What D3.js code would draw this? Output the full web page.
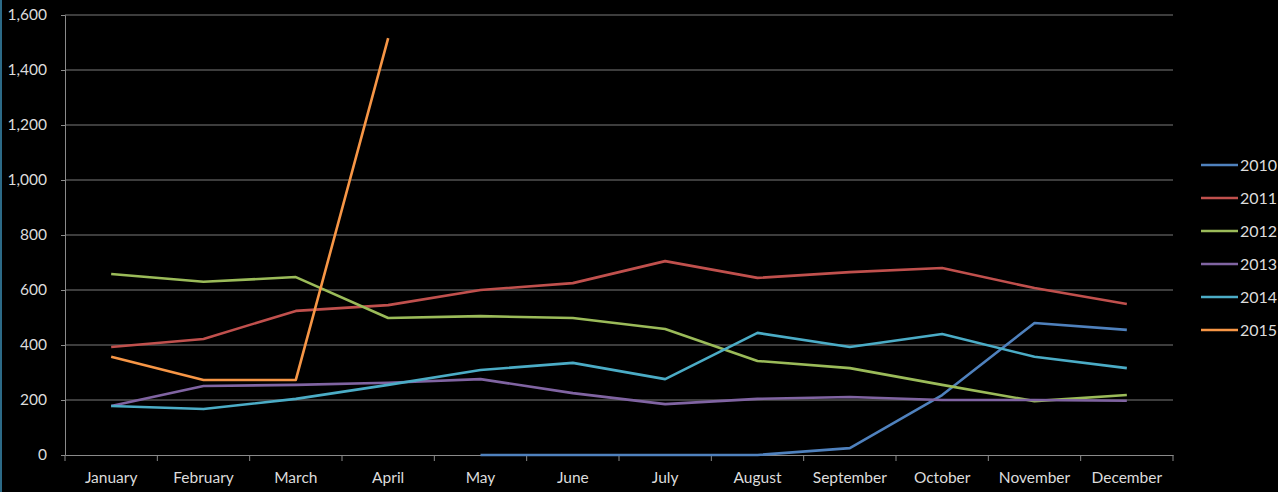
<!DOCTYPE html>
<html><head><meta charset="utf-8">
<script src="https://cdn.jsdelivr.net/npm/d3@7"></script>
<style>
html,body{margin:0;padding:0;background:#000;}
svg{display:block;}
text{font-family:Lato,"Open Sans",sans-serif;fill:#dcdcdc;}
</style></head>
<body>
<svg id="c" width="1278" height="492"></svg>
<script>
const months = ["January","February","March","April","May","June","July","August","September","October","November","December"];
const yTicks = [0,200,400,600,800,1000,1200,1400,1600];
const seriesNames = ["2010","2011","2012","2013","2014","2015"];
const colors = ["#4f81bd","#c0504d","#9bbb59","#8064a2","#4bacc6","#f79646"];
const v2010 = [null,null,null,null,0,0,0,0,25,218,480,455];
const v2011 = [393,422,524,545,600,625,705,644,665,680,607,549];
const v2012 = [658,630,647,498,505,498,458,342,316,255,196,218];
const v2013 = [178,251,255,263,276,225,185,204,211,200,200,197];
const v2014 = [178,167,204,255,309,335,276,444,393,440,357,316];
const v2015 = [357,273,273,1516,null,null,null,null,null,null,null,null];
const allValues = [v2010,v2011,v2012,v2013,v2014,v2015];

const svg = d3.select("#c");
svg.append("rect").attr("x",0).attr("y",0).attr("width",1278).attr("height",492).attr("fill","#000");
svg.append("line").attr("x1",1).attr("x2",1).attr("y1",0).attr("y2",492).attr("stroke","#2c6a87").attr("stroke-width",2);

const L=65, R=1173, T=15, B=455;
const x = d3.scaleBand().domain(months).range([L,R]);
const y = d3.scaleLinear().domain([0,1600]).range([B,T]);

// gridlines
svg.append("g").selectAll("line").data(yTicks.filter(d=>d>0)).join("line")
  .attr("x1",L).attr("x2",R).attr("y1",d=>y(d)).attr("y2",d=>y(d))
  .attr("stroke","#7a7a7a").attr("stroke-width",1);

// y axis
const ya = svg.append("g").attr("transform",`translate(${L},0)`)
  .call(d3.axisLeft(y).tickValues(yTicks).tickFormat(d3.format(",")).tickSize(4).tickPadding(14));
ya.select(".domain").attr("stroke","#8a8a8a");
ya.selectAll(".tick line").attr("stroke","#8a8a8a");
ya.selectAll("text").style("font-size","15.5px").attr("fill","#dcdcdc");

// x axis
const xa = svg.append("g").attr("transform",`translate(0,${B})`)
  .call(d3.axisBottom(x).tickSize(0).tickPadding(17));
xa.select(".domain").attr("stroke","#8a8a8a");
xa.selectAll("text").style("font-size","15.5px").attr("fill","#dcdcdc");
// category boundary ticks
const bounds = months.map(m=>x(m)).concat([R]);
svg.append("g").selectAll("line").data(bounds).join("line")
  .attr("x1",d=>d).attr("x2",d=>d).attr("y1",B).attr("y2",B+6)
  .attr("stroke","#8a8a8a");

// lines
const line = d3.line().defined(d=>d.v!=null)
  .x(d=>x(d.m)+x.bandwidth()/2).y(d=>y(d.v));
allValues.forEach((vals,i)=>{
  svg.append("path").datum(months.map((m,j)=>({m,v:vals[j]})))
    .attr("d",line).attr("fill","none").attr("stroke",colors[i])
    .attr("stroke-width",2.6).attr("stroke-linejoin","round");
});

// legend
const lg = svg.append("g");
seriesNames.forEach((s,i)=>{
  const yy = 165 + i*33;
  lg.append("line").attr("x1",1201).attr("x2",1238).attr("y1",yy).attr("y2",yy)
    .attr("stroke",colors[i]).attr("stroke-width",2.6);
  lg.append("text").attr("x",1240).attr("y",yy).attr("dy","0.35em")
    .style("font-size","16px").text(s);
});
</script>
</body></html>
